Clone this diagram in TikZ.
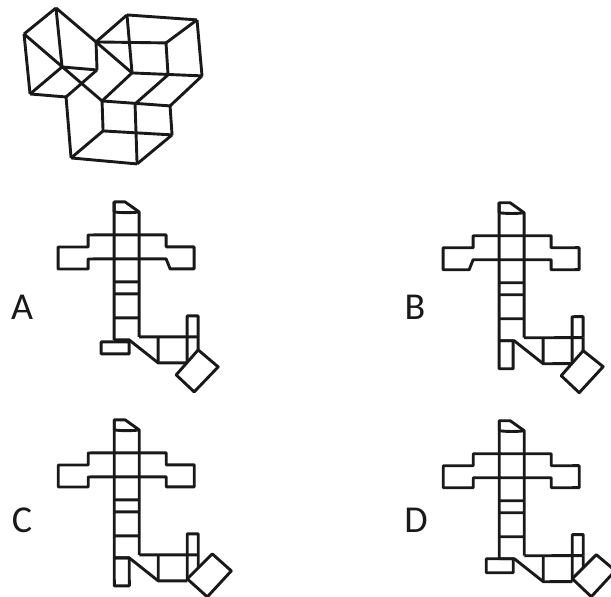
\documentclass[tikz,border=0pt]{standalone}
\usepackage{fontspec}
\setmainfont{Carlito}

\tikzset{
    netline/.style={line width=2.9pt, line join=round, color=black!90},
    optlabel/.style={font=\fontsize{38}{38}\selectfont, text=black!90, inner sep=0pt},
}

% Unfolded net, arguments are the lower corners of the two arms
\newcommand{\netbase}[2]{
    \coordinate (capL) at (114,202);
    \coordinate (capM) at (125,202);
    \coordinate (capR) at (139,212);
    \coordinate (capB) at (114,212);
    \coordinate (footL) at (114,340);
    \coordinate (footM) at (129,340);
    \coordinate (footR) at (139,337);
    \coordinate (stripR) at (198,337);
    \coordinate (stepA) at (158,337);
    \coordinate (stepB) at (158,363);
    \coordinate (stepC) at (187,363);

    % Strip
    \draw (capL) -- (footL);
    \draw (capB) -- (capL) -- (capM) -- (capR) -- (footR);
    \draw (capB) .. controls (122,213) and (132,213) .. (capR);
    \draw (114,235) -- (139,235);
    \draw (114,259) -- (139,259);
    \draw (114,282) -- (139,282);
    \draw (114,294) -- (139,294);
    \draw (114,318) -- (139,318);

    % Arms
    \draw (114,235) -- (88,235) -- (88,247) -- (58,247) -- (58,269) -- (#1,269) -- (88,259) -- (114,259);
    \draw (139,235) -- (166,235) -- (166,247) -- (194,247) -- (194,269) -- (#2,269) -- (166,259) -- (139,259);

    % Lower part
    \draw (footL) -- (footM) -- (stepB) -- (stepC);
    \draw (footR) -- (stripR);
    \draw (stepA) -- (stepB);
    \draw (stepC) -- (187,316) -- (198,316) -- (stripR);
}

\begin{document}
\begin{tikzpicture}[x=1pt,y=-1pt]
    \useasboundingbox (0,0) rectangle (611,597);

    \begin{scope}[rotate=0.03,every path/.append style={netline}]
    % Solid
    \coordinate (a) at (56,8);
    \coordinate (b) at (24,34);
    \coordinate (c) at (30,94);
    \coordinate (d) at (62,67);
    \coordinate (e) at (97,70);
    \coordinate (f) at (96,42);
    \coordinate (g) at (66,97);
    \coordinate (i) at (127,15);
    \coordinate (j) at (197,20);
    \coordinate (k) at (166,43);
    \coordinate (l) at (132,73);
    \coordinate (m) at (168,75);
    \coordinate (n) at (202,76);
    \coordinate (o) at (102,101);
    \coordinate (p) at (135,104);
    \coordinate (q) at (170,106);
    \coordinate (r) at (103,131);
    \coordinate (s) at (172,135);
    \coordinate (t) at (71,158);
    \coordinate (u) at (137,164);

    \draw (a) -- (b);
    \draw (a) -- (f);
    \draw (a) -- (d);
    \draw (b) -- (c);
    \draw (b) -- (o);
    \draw (c) -- (d);
    \draw (d) -- (e);
    \draw (e) -- (f);
    \draw (c) -- (g);
    \draw (e) -- (g);
    \draw (g) -- (t);
    \draw (t) -- (r);
    \draw (o) -- (r);
    \draw (o) -- (q);
    \draw (q) -- (s);
    \draw (r) -- (s);
    \draw (s) -- (u);
    \draw (t) -- (u);
    \draw (p) -- (u);
    \draw (f) -- (i);
    \draw (i) -- (j);
    \draw (j) -- (k);
    \draw (j) -- (n);
    \draw (f) -- (k);
    \draw (i) -- (l);
    \draw (k) -- (m);
    \draw (f) -- (l);
    \draw (l) -- (n);
    \draw (m) -- (p);
    \draw (l) -- (o);
    \draw (n) -- (q);

    % Option A
    \begin{scope}
        \netbase{88}{170}
        \draw (101,342) rectangle (129,354);
        \draw (198,350) -- (218,367) -- (194,392) -- (176,375) -- cycle;
        \draw (stripR) -- (198,350);
    \end{scope}

    % Option B
    \begin{scope}[shift={(385,1)}]
        \netbase{84}{166}
        \draw (114,340) rectangle (128,368);
        \draw (198,350) -- (218,366) -- (194,392) -- (176,375) -- cycle;
        \draw (stripR) -- (198,350);
    \end{scope}

    % Option C
    \begin{scope}[shift={(0,218)}]
        \netbase{88}{166}
        \draw (114,340) rectangle (129,368);
        \draw (187,361) -- (212,336) -- (231,353) -- (207,379) -- cycle;
        \draw (stripR) -- (198,350);
    \end{scope}

    % Option D
    \begin{scope}[shift={(385,219)}]
        \netbase{88}{166}
        \draw (101,340) rectangle (128,354);
        \draw (187,360) -- (211,336) -- (230,352) -- (206,378) -- cycle;
        \draw (stripR) -- (198,349);
    \end{scope}
    \end{scope}

    % Letters
    \node[optlabel] (labelA) at (22,307) {A};
    \node[optlabel] (labelB) at (415,307) {B};
    \node[optlabel] (labelC) at (22,520) {C};
    \node[optlabel] (labelD) at (416,520) {D};
\end{tikzpicture}
\end{document}
